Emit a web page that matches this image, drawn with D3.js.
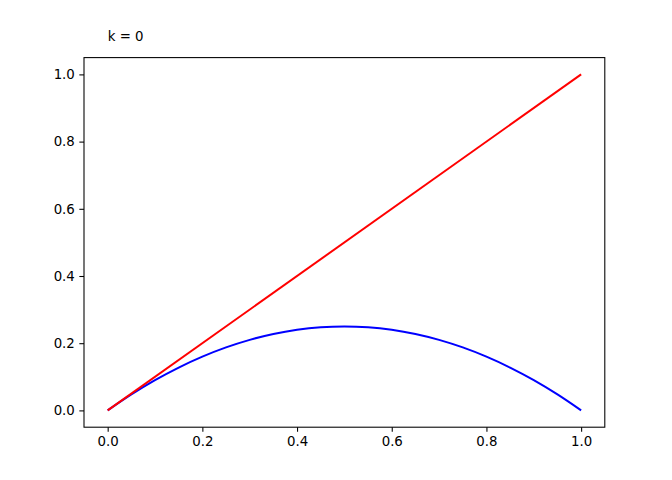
<!DOCTYPE html>
<html><head><meta charset="utf-8">
<script src="https://cdn.jsdelivr.net/npm/d3@7"></script>
<style>body{margin:0;background:#fff}svg{display:block}text{font-family:"DejaVu Sans",sans-serif}</style>
</head><body>
<svg id="c" width="672" height="480"></svg>
<script>
const xValues = [0, 0.05, 0.1, 0.15, 0.2, 0.25, 0.3, 0.35, 0.4, 0.45, 0.5, 0.55, 0.6, 0.65, 0.7, 0.75, 0.8, 0.85, 0.9, 0.95, 1.0];
const blueValues = [0, 0.0475, 0.09, 0.1275, 0.16, 0.1875, 0.21, 0.2275, 0.24, 0.2475, 0.25, 0.2475, 0.24, 0.2275, 0.21, 0.1875, 0.16, 0.1275, 0.09, 0.0475, 0];
const redValues = [0, 1.0];
const redX = [0, 1.0];
const xTicks = [0, 0.2, 0.4, 0.6, 0.8, 1.0];
const yTicks = [0, 0.2, 0.4, 0.6, 0.8, 1.0];
const titleText = "k = 0";

const svg = d3.select("#c");
const L = 84, R = 604.8, T = 57.6, B = 427.2;
const x = d3.scaleLinear().domain([-0.05, 1.05]).range([L, R]);
const y = d3.scaleLinear().domain([-0.05, 1.05]).range([B, T]);

const line = d3.line().x(d => x(d[0])).y(d => y(d[1]));
svg.append("path").datum(xValues.map((v, i) => [v, blueValues[i]]))
  .attr("d", line.curve(d3.curveCatmullRom)).attr("fill", "none").attr("stroke", "#0000ff").attr("stroke-width", 2);
svg.append("path").datum(redX.map((v, i) => [v, redValues[i]]))
  .attr("d", d3.line().x(d => x(d[0])).y(d => y(d[1]))).attr("fill", "none").attr("stroke", "#ff0000").attr("stroke-width", 2);

const xAxis = svg.append("g").attr("transform", `translate(0,${B})`)
  .call(d3.axisBottom(x).tickValues(xTicks).tickFormat(d3.format(".1f")).tickSizeInner(4.67).tickSizeOuter(0).tickPadding(4.5));
const yAxis = svg.append("g").attr("transform", `translate(${L},0)`)
  .call(d3.axisLeft(y).tickValues(yTicks).tickFormat(d3.format(".1f")).tickSizeInner(4.67).tickSizeOuter(0).tickPadding(4.5));
[xAxis, yAxis].forEach(g => {
  g.select(".domain").remove();
  g.selectAll(".tick line").attr("stroke", "#000").attr("stroke-width", 1.07);
  g.selectAll(".tick text").attr("fill", "#000").style("font-size", "13.33px").style("font-family", "DejaVu Sans");
});
svg.append("rect").attr("x", L).attr("y", T).attr("width", R - L).attr("height", B - T)
  .attr("fill", "none").attr("stroke", "#000").attr("stroke-width", 1.07);

svg.append("text").attr("x", x(0)).attr("y", 41).text(titleText)
  .style("font-size", "13.33px").attr("fill", "#000");
</script>
</body></html>
